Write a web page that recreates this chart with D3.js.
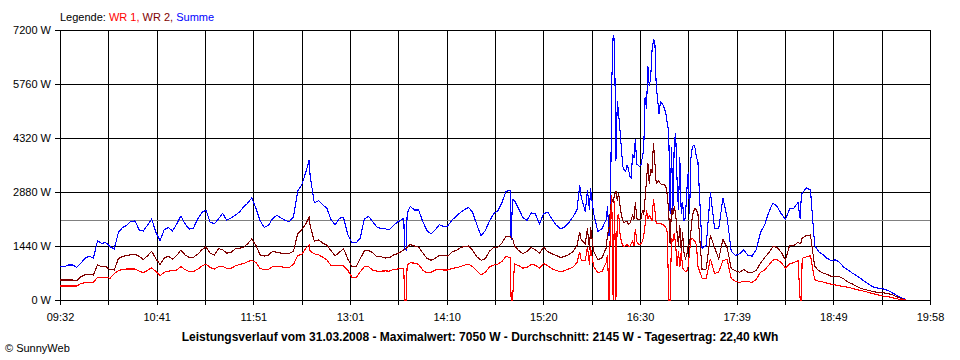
<!DOCTYPE html>
<html><head><meta charset="utf-8">
<script src="https://cdn.jsdelivr.net/npm/d3@7"></script>
<style>
body{margin:0;background:#fff}
svg{display:block}
text{font-family:"Liberation Sans",Arial,sans-serif}
</style>
</head><body>
<svg id="c" width="960" height="360"></svg>
<script>
// minutes after 09:32
const minutes = [0,3,6,9,12,15,18,21,24,27,30,33,36,39,42,45,48,51,54,57,60,63,66,69,72,75,78,81,84,87,90,93,96,99,102,105,108,111,114,117,120,123,126,129,132,135,138,141,144,147,150,153,156,159,162,165,168,171,174,177,179.3,180,183,186,189,192,195,198,201,204,207,210,213,216,219,222,225,228,231,234,237,240,243,246,247.4,247.9,249,249.8,252,255,258,261,264,267,270,273,276,279,282,285,288,291,294,297,300,303,306,309,312,315,318,321,324,324.6,325.6,327,330,333,336,339,342,345,348,351,354,357,360,363,366,369,372,374,375,378,379.5,381,381.7,384,387,390,
393,394,395,396,397,398,399,400,401,402,403,404,405,406,407,408,409,410,411,412,413,414,415,416,417,418,419,420,421,422,423,424,425,426,427,428,429,430,431,432,433,434,435,436,437,438,439,440,441,442,443,444,445,446,447,448,449,450,451,452,453,454,455,456,457,458,459,
462,465,468,471,474,477,480,483,486,489,492,495,498,501,504,507,510,513,516,519,522,525,528,531,532.6,533.5,534,537,540,543,546,549,552,555,558,561,564,567,570,573,576,579,582,585,588,591,594,597,600,603,606,609];

const summe = [889,889,933,933,871,978,1111,1173,1111,1582,1511,1529,1422,1360,1800,1930,1990,2100,2107,1870,1840,2000,2160,1800,1580,1880,1930,1840,2030,2240,2030,1890,1920,2150,2330,2400,2080,2030,2160,2310,2130,2180,2260,2340,2480,2580,2720,2440,2110,1940,1990,2170,2260,2190,2120,2089,2220,2900,3080,3420,3733,3300,2590,2650,2540,2450,2140,2010,2180,2200,1750,1530,1520,1650,2160,2230,2090,1950,1900,1900,1870,1990,2080,2150,2180,1380,1340,2300,2500,2400,2400,2100,1850,1760,1870,2010,1960,1973,2130,2230,2330,2410,2470,2330,2000,1710,1850,2100,2300,2380,2600,2900,2920,1600,2680,2650,2440,2200,2120,2320,2300,2030,2300,2340,2160,2000,1900,1940,2060,2210,2400,3067,2750,2350,2933,2400,2978,2300,1830,1900,
2150,2500,1700,2009,5786,7050,6950,3700,5300,4950,4500,4000,3550,3460,3420,3600,3500,3300,3250,3900,3780,4300,3620,3600,3560,3600,3800,4000,5400,5100,6250,5700,5900,6650,6933,6930,5700,5350,4950,5280,5244,5200,5100,4950,4700,4500,2300,4080,2400,4200,4450,3200,2400,3800,2300,2600,2100,2200,2900,3400,2300,3800,4090,4130,4050,3800,3700,
1380,1450,2880,1900,1900,2720,2200,1300,1190,1230,1340,1190,1170,1350,1800,2000,2340,2590,2490,2300,2150,2430,2450,2600,2150,2850,2844,2990,2933,1460,1280,1210,1110,1050,1070,1000,870,800,720,650,580,490,420,350,320,305,280,230,170,100,45,15];

const wr2 = [533,533,533,533,516,622,670,693,667,933,889,889,810,800,1100,1165,1185,1205,1227,1160,1080,1180,1300,1100,950,1120,1170,1090,1190,1330,1200,1138,1138,1220,1333,1420,1250,1200,1370,1340,1250,1270,1360,1380,1400,1500,1630,1450,1200,1170,1200,1300,1270,1250,1244,1244,1300,1760,1880,2040,2204,1980,1570,1600,1520,1460,1320,1180,1270,1370,1100,890,890,1100,1310,1325,1260,1150,1156,1120,1130,1200,1240,1300,1340,1350,1378,1400,1480,1440,1410,1260,1110,1060,1110,1190,1180,1173,1280,1320,1390,1430,1440,1320,1150,1060,1100,1300,1400,1404,1520,1700,1700,1650,1650,1450,1320,1240,1290,1400,1340,1250,1404,1290,1230,1190,1135,1160,1210,1290,1450,1822,1600,1500,1911,1333,1956,1300,1070,1130,
1387,1750,1900,2400,2700,2600,2800,2900,2650,2850,2500,2250,2120,2060,2100,2100,2020,2040,2150,2260,2150,2600,2180,2142,2142,2150,2364,2280,2700,3200,3650,3100,3500,3400,4187,3700,3100,3150,3180,3100,3080,3075,3075,3000,2800,2350,1500,2450,2280,2500,2300,1800,1450,2000,1300,1800,1250,1100,1200,1450,1500,1850,2250,2380,2440,2400,2300,
800,830,1720,1400,1100,1620,1400,840,780,740,818,740,730,790,980,1130,1260,1430,1400,1270,1070,1460,1450,1540,1500,1560,1650,1720,1735,900,780,720,680,630,630,622,560,480,430,370,310,280,255,225,205,195,185,160,125,70,30,10];

const wr1 = [373,373,373,373,373,440,462,471,471,604,604,604,580,700,780,820,827,827,827,770,730,790,860,760,650,740,770,785,800,889,810,756,756,820,900,960,870,825,890,900,845,845,905,950,970,1020,1060,1000,840,805,820,890,900,885,871,871,950,1180,1220,1380,1467,1300,1230,1210,1140,1070,920,907,930,910,800,610,590,750,889,889,800,770,770,775,770,815,827,844,844,0,0,930,990,985,950,800,720,740,800,805,800,800,840,860,890,930,950,890,770,670,740,880,930,960,1030,1165,1120,0,0,960,920,850,865,950,930,850,975,910,830,790,756,780,830,870,1000,1289,1067,1050,1422,933,1422,900,730,760,
1000,1209,0,2000,2800,0,2650,0,2200,2300,1750,1550,1450,1430,1450,1475,1440,1430,1500,1564,1450,1900,1560,1500,1475,1500,1564,1700,2000,2400,2150,2250,2200,2100,2700,2400,2050,2030,2050,2040,2020,2009,1980,1920,1800,0,0,1650,1564,1786,1475,900,1300,870,1300,850,800,756,760,900,1300,1600,1644,1600,1550,1467,900,
578,578,1100,700,750,1050,1080,570,500,470,505,490,470,550,740,800,930,1067,1070,1000,850,960,996,1050,0,0,1111,1150,1180,540,500,480,450,420,400,375,360,340,310,280,255,230,200,170,140,115,95,80,50,25,10,5];

const xLabels = ["09:32","10:41","11:51","13:01","14:10","15:20","16:30","17:39","18:49","19:58"];
const yTicks = [0,1440,2880,4320,5760,7200];
const average = 2145;
const series = [
  {name:"WR 1", values: wr1, color:"#ff0000"},
  {name:"WR 2", values: wr2, color:"#800000"},
  {name:"Summe", values: summe, color:"#0000ff"}
];
const title = "Leistungsverlauf vom 31.03.2008 - Maximalwert: 7050 W - Durchschnitt: 2145 W - Tagesertrag: 22,40 kWh";

const span = 626; // 09:32 -> 19:58
const L = 60, R = 930, T = 30, B = 300;
const x = d3.scaleLinear().domain([0, span]).range([L, R]);
const y = d3.scaleLinear().domain([0, 7200]).range([B, T]);
const gridMinutes = d3.range(19).map(i => i * span / 18);

const svg = d3.select("#c");
svg.append("rect").attr("width",960).attr("height",360).attr("fill","#fff");

// grid
const g = svg.append("g").attr("shape-rendering","crispEdges");
g.selectAll("line.v").data(gridMinutes).join("line")
  .attr("x1", d => Math.round(x(d)) + 0.5).attr("x2", d => Math.round(x(d)) + 0.5)
  .attr("y1", T + 0.5).attr("y2", B + 5)
  .attr("stroke","#000");
g.selectAll("line.h").data(yTicks).join("line")
  .attr("x1", L - 5).attr("x2", R + 1)
  .attr("y1", d => Math.round(y(d)) + 0.5).attr("y2", d => Math.round(y(d)) + 0.5)
  .attr("stroke","#000");

// average line
svg.append("line").attr("shape-rendering","crispEdges")
  .attr("x1", L + 1).attr("x2", R)
  .attr("y1", Math.round(y(average)) + 0.5).attr("y2", Math.round(y(average)) + 0.5)
  .attr("stroke","#808080");

// axes labels
const xAxis = svg.append("g").attr("transform",`translate(0,${B})`)
  .call(d3.axisBottom(x).tickValues(gridMinutes.filter((d,i)=>i%2===0))
    .tickSize(0).tickPadding(13).tickFormat((d,i)=>xLabels[i]));
xAxis.select(".domain").remove();
xAxis.selectAll("text").attr("font-size",11).attr("font-family","Liberation Sans, Arial, sans-serif").attr("fill","#000");

const yAxis = svg.append("g").attr("transform",`translate(${L},0)`)
  .call(d3.axisLeft(y).tickValues(yTicks).tickSize(0).tickPadding(9).tickFormat(d => d + " W"));
yAxis.select(".domain").remove();
yAxis.selectAll("text").attr("font-size",11).attr("font-family","Liberation Sans, Arial, sans-serif").attr("fill","#000");

// lines
const line = d3.line().x((d,i) => x(minutes[i])).y(d => y(d));
const drawOrder = [series[2], series[1], series[0]];
svg.append("g").selectAll("path").data(drawOrder).join("path")
  .attr("d", s => line(s.values))
  .attr("fill","none").attr("stroke", s => s.color).attr("stroke-width",1.1)
  .attr("stroke-linejoin","miter").attr("shape-rendering","crispEdges");

// legend
const leg = svg.append("text").attr("x", L).attr("y", 21).attr("font-size", 11);
leg.append("tspan").text("Legende: ").attr("fill","#000");
series.forEach((s, i) => {
  leg.append("tspan").attr("fill", s.color).text(s.name + (i < series.length - 1 ? ", " : ""));
});

// title & footer
svg.append("text").attr("x", 480).attr("y", 341).attr("text-anchor","middle")
  .attr("font-size", 12).attr("font-weight","bold").text(title);
svg.append("text").attr("x", 5).attr("y", 352).attr("font-size", 11).text("\u00A9 SunnyWeb");
</script>
</body></html>
